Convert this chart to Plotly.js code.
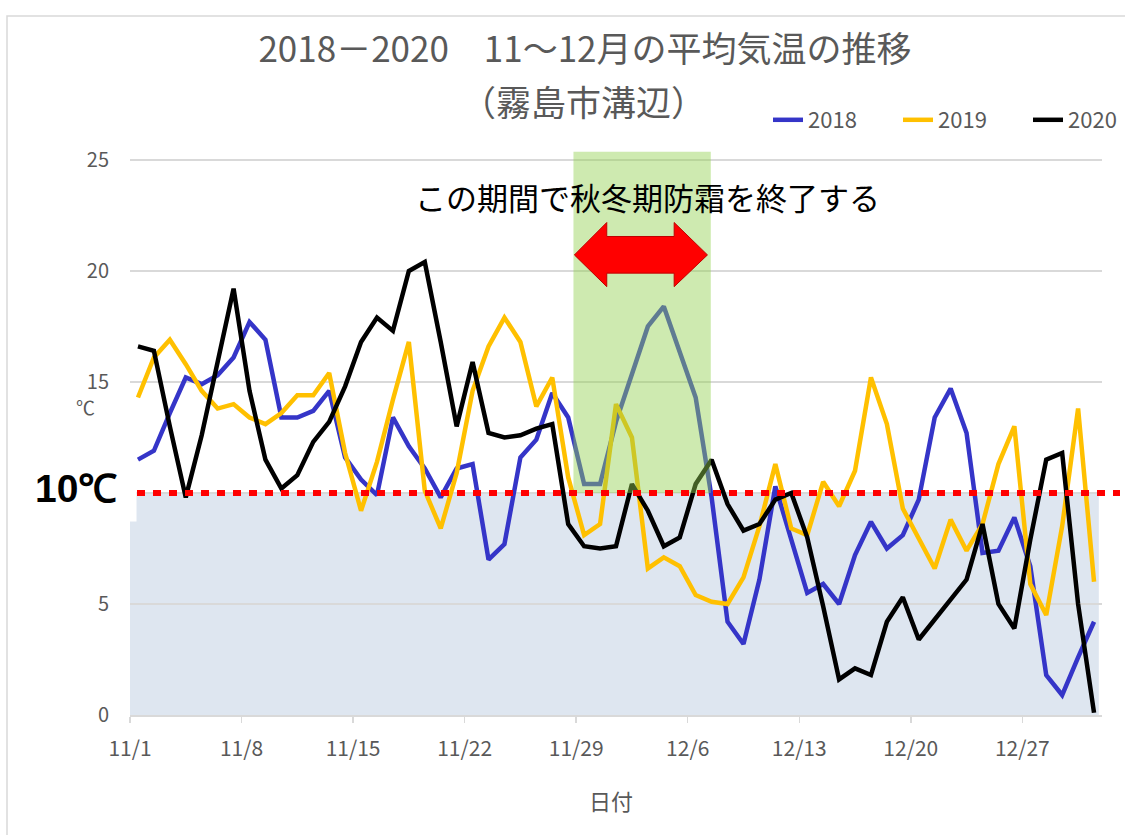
<!DOCTYPE html>
<html>
<head>
<meta charset="utf-8">
<script src="https://cdn.plot.ly/plotly-3.0.1.min.js"></script>
<style>html,body{margin:0;padding:0;background:#fff;}#chart{width:1125px;height:835px;}</style>
</head>
<body>
<div id="chart"></div>
<script>
// ---- data ----
const monthLengths = [[11, 30], [12, 31]];
const dates = [];
monthLengths.forEach(([m, n]) => { for (let d = 1; d <= n; d++) dates.push(m + '/' + d); });

const tickLabels = ['11/1', '11/8', '11/15', '11/22', '11/29', '12/6', '12/13', '12/20', '12/27'];
const yTicks = [0, 5, 10, 15, 20, 25];
// the "10" tick label is hidden behind the "10℃" callout in the original
const yTickLabels = ['0', '5', '', '15', '20', '25'];
const seriesNames = ['2018', '2019', '2020'];

const temp2018 = [11.5, 11.9, 13.6, 15.2, 14.9, 15.3, 16.1, 17.7, 16.9, 13.4,
  13.4, 13.7, 14.6, 11.6, 10.6, 9.9, 13.4, 12.1, 11.1, 9.8,
  11.1, 11.3, 7.0, 7.7, 11.6, 12.4, 14.5, 13.4, 10.4, 10.4,
  13.2, 15.4, 17.5, 18.4, 16.3, 14.3, 9.8, 4.2, 3.2, 6.1,
  10.3, 7.9, 5.5, 5.9, 5.0, 7.2, 8.7, 7.5, 8.1, 9.7,
  13.4, 14.7, 12.7, 7.3, 7.4, 8.9, 6.7, 1.8, 0.9, 2.6, 4.2];

const temp2019 = [14.3, 16.1, 16.9, 15.8, 14.6, 13.8, 14.0, 13.4, 13.1, 13.6,
  14.4, 14.4, 15.4, 11.8, 9.2, 11.4, 14.2, 16.8, 10.1, 8.4,
  10.9, 14.6, 16.6, 17.9, 16.8, 13.9, 15.2, 10.7, 8.1, 8.6,
  14.0, 12.5, 6.6, 7.1, 6.7, 5.4, 5.1, 5.0, 6.2, 8.5,
  11.3, 8.4, 8.1, 10.5, 9.4, 11.0, 15.2, 13.1, 9.3, 7.9,
  6.6, 8.8, 7.4, 8.6, 11.3, 13.0, 5.9, 4.5, 8.5, 13.8, 6.0];

const temp2020 = [16.6, 16.4, 13.0, 9.8, 12.6, 15.9, 19.2, 14.6, 11.5, 10.2,
  10.8, 12.3, 13.2, 14.8, 16.8, 17.9, 17.3, 20.0, 20.4, 16.8,
  13.0, 15.9, 12.7, 12.5, 12.6, 12.9, 13.1, 8.6, 7.6, 7.5,
  7.6, 10.4, 9.2, 7.6, 8.0, 10.4, 11.5, 9.5, 8.3, 8.6,
  9.7, 10.0, 8.0, 4.9, 1.6, 2.1, 1.8, 4.2, 5.3, 3.4,
  4.3, 5.2, 6.1, 8.6, 5.0, 3.9, 7.9, 11.5, 11.8, 5.0, 0.1];

const seriesValues = [temp2018, temp2019, temp2020];
const seriesColors = ['#3535c8', '#ffc000', '#000000'];

// ---- layout helpers ----
const W = 1125, H = 835;
const M = {l: 130, r: 23, t: 151, b: 120, autoexpand: false};
const PW = W - M.l - M.r, PH = H - M.t - M.b;
const px = x => (x - M.l) / PW;
const py = y => (H - M.b - y) / PH;

const xIdx = dates.map((_, i) => i);
const traces = seriesNames.map((name, k) => ({
  type: 'scatter', mode: 'lines', name: name,
  x: xIdx, y: seriesValues[k], text: dates,
  line: {color: seriesColors[k], width: 4.5},
  hovertemplate: '%{text}: %{y}℃<extra>' + name + '</extra>'
}));

const gray = '#595959';
const fontFam = '"Noto Sans CJK JP", "Noto Sans", sans-serif';

const arrowPts = [[27.39, 20.72], [29.42, 22.18], [29.42, 21.55], [33.65, 21.55], [33.65, 22.18],
  [35.74, 20.72], [33.65, 19.29], [33.65, 19.9], [29.42, 19.9], [29.42, 19.29]];
const arrowPath = 'M ' + arrowPts.map(p => p[0] + ',' + p[1]).join(' L ') + ' Z';

const layout = {
  width: W, height: H,
  margin: M,
  paper_bgcolor: '#ffffff',
  plot_bgcolor: 'rgba(0,0,0,0)',
  font: {family: fontFam, color: gray},
  showlegend: true,
  title: {
    text: '2018－2020　11～12月の平均気温の推移',
    x: 585 / W, xanchor: 'center', xref: 'container',
    y: 1 - 50 / H, yanchor: 'middle', yref: 'container',
    font: {size: 35, color: gray, family: fontFam}
  },
  legend: {
    orientation: 'h', x: px(768), xanchor: 'left', y: py(120), yanchor: 'middle',
    font: {size: 22, color: gray, family: fontFam}, bgcolor: 'rgba(0,0,0,0)',
    itemwidth: 30, entrywidth: 85
  },
  xaxis: {
    range: [-0.5, 60.5],
    tickmode: 'array',
    tickvals: tickLabels.map(l => dates.indexOf(l) - 0.5),
    ticktext: tickLabels,
    showgrid: false, zeroline: false,
    showline: true, linecolor: '#d9d9d9', linewidth: 1.5,
    ticks: 'outside', ticklen: 6, tickcolor: '#d9d9d9', tickwidth: 1.5,
    tickfont: {size: 21, color: gray, family: fontFam},
    ticklabelstandoff: 8
  },
  yaxis: {
    range: [0, 25.4],
    tickmode: 'array', tickvals: yTicks, ticktext: yTickLabels,
    showgrid: true, gridcolor: '#d9d9d9', gridwidth: 1.5,
    zeroline: false, showline: false, ticks: '',
    tickfont: {size: 20, color: gray, family: fontFam},
    ticklabelstandoff: 20
  },
  shapes: [
    {type: 'rect', xref: 'x', yref: 'y', x0: -0.5, x1: 60.3, y0: 0, y1: 10,
      fillcolor: '#dee6f0', line: {width: 0}, layer: 'below'},
    {type: 'rect', xref: 'x', yref: 'y', x0: 27.33, x1: 35.95, y0: 10, y1: 25.37,
      fillcolor: 'rgba(146,208,80,0.45)', line: {width: 0}, layer: 'above'},
    {type: 'line', xref: 'paper', yref: 'paper', x0: px(137), x1: px(1120), y0: py(493), y1: py(493),
      line: {color: '#ff0000', width: 6, dash: '8px,8px'}, layer: 'above'},
    {type: 'path', xref: 'x', yref: 'y', path: arrowPath,
      fillcolor: '#ff0000', line: {color: '#c00000', width: 1}, layer: 'above'},
    {type: 'rect', xref: 'paper', yref: 'paper', x0: px(8), x1: px(136.5), y0: py(521.5), y1: py(470),
      fillcolor: '#ffffff', line: {width: 0}, layer: 'above'},
    {type: 'rect', xref: 'paper', yref: 'paper', x0: px(7), x1: px(1140), y0: py(850), y1: py(16),
      fillcolor: 'rgba(0,0,0,0)', line: {color: '#d9d9d9', width: 1.5}, layer: 'below'}
  ],
  annotations: [
    {text: '（霧島市溝辺）', xref: 'paper', yref: 'paper', x: px(583), y: py(101),
      xanchor: 'center', yanchor: 'middle', showarrow: false,
      font: {size: 35, color: gray, family: fontFam}},
    {text: 'この期間で秋冬期防霜を終了する', xref: 'paper', yref: 'paper', x: px(647), y: py(197),
      xanchor: 'center', yanchor: 'middle', showarrow: false,
      font: {size: 31, color: '#000000', family: fontFam}},
    {text: '<b>10℃</b>', xref: 'paper', yref: 'paper', x: px(76), y: py(489),
      xanchor: 'center', yanchor: 'middle', showarrow: false,
      font: {size: 39, color: '#000000', family: '"Liberation Sans", Arial, sans-serif'}},
    {text: '℃', xref: 'paper', yref: 'paper', x: px(85), y: py(406),
      xanchor: 'center', yanchor: 'middle', showarrow: false,
      font: {size: 19, color: gray, family: fontFam}},
    {text: '日付', xref: 'paper', yref: 'paper', x: px(611), y: py(800),
      xanchor: 'center', yanchor: 'middle', showarrow: false,
      font: {size: 22, color: gray, family: fontFam}}
  ]
};

Plotly.newPlot('chart', traces, layout, {displayModeBar: false, staticPlot: true});
</script>
</body>
</html>
